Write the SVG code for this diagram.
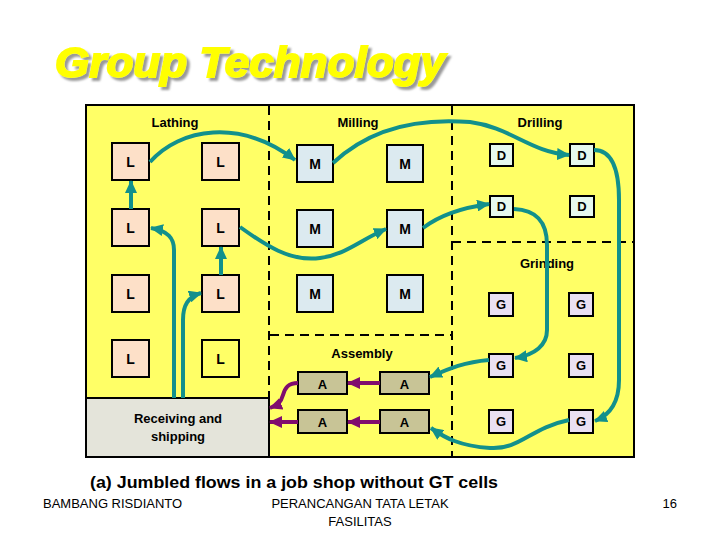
<svg xmlns="http://www.w3.org/2000/svg" width="720" height="540" viewBox="0 0 720 540">
<defs>
<style>
.lbl{font-family:"Liberation Sans",Arial,sans-serif;font-weight:bold;font-size:13px;fill:#000;text-anchor:middle}
.bl{font-size:14px}
.box{stroke:#000;stroke-width:2}
.L{fill:#FDE0C8}
.Ly{fill:#FFFF66}
.M{fill:#DCEAF0}
.D{fill:#E6F8EE}
.G{fill:#EAE0F2}
.A{fill:#C8C496}
.t{stroke:#12908C;stroke-width:4;fill:none;marker-end:url(#at)}
.p{stroke:#800C6E;stroke-width:4;fill:none;marker-end:url(#ap)}
.dash{stroke:#000;stroke-width:2;stroke-dasharray:9 6;fill:none}
.foot{font-family:"Liberation Sans",Arial,sans-serif;font-size:13px;fill:#000}
</style>
<filter id="sh" x="-5%" y="-20%" width="115%" height="150%">
<feDropShadow dx="3" dy="3" stdDeviation="0.8" flood-color="#999999" flood-opacity="1"/>
</filter>
<marker id="at" markerUnits="userSpaceOnUse" markerWidth="14" markerHeight="12" refX="12" refY="6" orient="auto"><path d="M0,0 L13,6 L0,12 z" fill="#12908C"/></marker>
<marker id="ap" markerUnits="userSpaceOnUse" markerWidth="14" markerHeight="12" refX="12" refY="6" orient="auto"><path d="M0,0 L13,6 L0,12 z" fill="#800C6E"/></marker>
</defs>
<rect width="720" height="540" fill="#fff"/>
<g id="title">
<text x="55" y="77" font-family="'Liberation Sans',Arial,sans-serif" font-weight="bold" font-style="italic" font-size="42" textLength="390" lengthAdjust="spacingAndGlyphs" fill="#FFFF00" stroke="#FFFF00" stroke-width="2" filter="url(#sh)">Group Technology</text>
</g>
<g id="frame">
<rect x="86" y="105" width="548" height="352" fill="#FFFF66" stroke="#000" stroke-width="2"/>
<line class="dash" x1="269" y1="106" x2="269" y2="398"/>
<line class="dash" x1="452" y1="106" x2="452" y2="456"/>
<line class="dash" x1="270" y1="335" x2="452" y2="335"/>
<line class="dash" x1="452" y1="242" x2="633" y2="242"/>
<text class="lbl" x="175" y="127">Lathing</text>
<text class="lbl" x="358" y="127">Milling</text>
<text class="lbl" x="540" y="127">Drilling</text>
<text class="lbl" x="547" y="268">Grinding</text>
<text class="lbl" x="362" y="358">Assembly</text>
</g>
<g id="receiving">
<rect x="86" y="398" width="183" height="59" fill="#E4E4DA" stroke="#000" stroke-width="2"/>
<text class="lbl" x="178" y="423" font-size="14">Receiving and</text>
<text class="lbl" x="178" y="441" font-size="14">shipping</text>
</g>
<g id="lathes">
<rect class="box L" x="112" y="143" width="37" height="37"/><text class="lbl bl" x="130.5" y="167">L</text>
<rect class="box L" x="202" y="143" width="37" height="37"/><text class="lbl bl" x="220.5" y="167">L</text>
<rect class="box L" x="112" y="209" width="37" height="37"/><text class="lbl bl" x="130.5" y="233">L</text>
<rect class="box L" x="202" y="209" width="37" height="37"/><text class="lbl bl" x="220.5" y="233">L</text>
<rect class="box L" x="112" y="275" width="37" height="37"/><text class="lbl bl" x="130.5" y="299">L</text>
<rect class="box L" x="202" y="275" width="37" height="37"/><text class="lbl bl" x="220.5" y="299">L</text>
<rect class="box L" x="112" y="340" width="37" height="37"/><text class="lbl bl" x="130.5" y="364">L</text>
<rect class="box Ly" x="202" y="340" width="37" height="37"/><text class="lbl bl" x="220.5" y="364">L</text>
</g>
<g id="mills">
<rect class="box M" x="297" y="145" width="36" height="37"/><text class="lbl bl" x="315" y="169">M</text>
<rect class="box M" x="387" y="145" width="36" height="37"/><text class="lbl bl" x="405" y="169">M</text>
<rect class="box M" x="297" y="210" width="36" height="37"/><text class="lbl bl" x="315" y="234">M</text>
<rect class="box M" x="387" y="210" width="36" height="37"/><text class="lbl bl" x="405" y="234">M</text>
<rect class="box M" x="297" y="275" width="36" height="37"/><text class="lbl bl" x="315" y="299">M</text>
<rect class="box M" x="387" y="275" width="36" height="37"/><text class="lbl bl" x="405" y="299">M</text>
</g>
<g id="drills">
<rect class="box D" x="490" y="144" width="23" height="22"/><text class="lbl" x="501.5" y="160" font-size="12">D</text>
<rect class="box D" x="570" y="144" width="24" height="22"/><text class="lbl" x="582" y="160" font-size="12">D</text>
<rect class="box D" x="490" y="196" width="23" height="21"/><text class="lbl" x="501.5" y="211" font-size="12">D</text>
<rect class="box D" x="570" y="196" width="24" height="21"/><text class="lbl" x="582" y="211" font-size="12">D</text>
</g>
<g id="grinders">
<rect class="box G" x="489" y="293" width="24" height="23"/><text class="lbl" x="501" y="309">G</text>
<rect class="box G" x="569" y="293" width="24" height="23"/><text class="lbl" x="581" y="309">G</text>
<rect class="box G" x="489" y="354" width="24" height="23"/><text class="lbl" x="501" y="370">G</text>
<rect class="box G" x="569" y="354" width="24" height="23"/><text class="lbl" x="581" y="370">G</text>
<rect class="box G" x="489" y="410" width="24" height="23"/><text class="lbl" x="501" y="426">G</text>
<rect class="box G" x="569" y="410" width="24" height="23"/><text class="lbl" x="581" y="426">G</text>
</g>
<g id="assembly">
<rect class="box A" x="298" y="372" width="49" height="22"/><text class="lbl" x="322.5" y="389" font-size="15">A</text>
<rect class="box A" x="380" y="372" width="49" height="22"/><text class="lbl" x="404.5" y="389" font-size="15">A</text>
<rect class="box A" x="298" y="410" width="49" height="23"/><text class="lbl" x="322.5" y="427" font-size="15">A</text>
<rect class="box A" x="380" y="410" width="49" height="23"/><text class="lbl" x="404.5" y="427" font-size="15">A</text>
</g>
<g id="connectors">
<path class="t" d="M150,162 C180,128 240,118 295,160"/>
<path class="t" d="M333,163 C370,128 420,118 470,122 C510,127 530,152 569,155"/>
<path class="t" d="M594,150 C612,150 619,170 619,200 L619,380 C619,402 610,415 595,421"/>
<path class="t" d="M569,420 C530,428 520,450 490,448 C460,446 445,438 431,428"/>
<path class="t" d="M240,227 C265,245 290,262 320,258 C345,255 360,240 386,229"/>
<path class="t" d="M423,228 C440,215 460,208 489,204"/>
<path class="t" d="M514,209 C535,210 547,220 547,245 L547,330 C547,345 535,355 515,358"/>
<path class="t" d="M489,360 C465,362 450,368 430,377"/>
<path class="t" d="M131,209 L131,181"/>
<path class="t" d="M221,275 L221,247"/>
<path class="t" d="M174,398 L174,250 C174,238 168,231 151,228"/>
<path class="t" d="M183,398 L183,320 C183,305 188,297 201,293"/>
<path class="p" d="M380,383 L348,383"/>
<path class="p" d="M380,422 L348,422"/>
<path class="p" d="M298,383 C288,383 285,388 283,395 C281,402 278,405 270,408"/>
<path class="p" d="M298,422 L270,422"/>
</g>
<g id="footer">
<text x="90" y="488" font-family="'Liberation Sans',Arial,sans-serif" font-weight="bold" font-size="17" textLength="408" lengthAdjust="spacingAndGlyphs">(a) Jumbled flows in a job shop without GT cells</text>
<text class="foot" x="43" y="508">BAMBANG RISDIANTO</text>
<text class="foot" x="360" y="508" text-anchor="middle">PERANCANGAN TATA LETAK</text>
<text class="foot" x="360" y="526" text-anchor="middle">FASILITAS</text>
<text class="foot" x="677" y="508" text-anchor="end">16</text>
</g>
</svg>
